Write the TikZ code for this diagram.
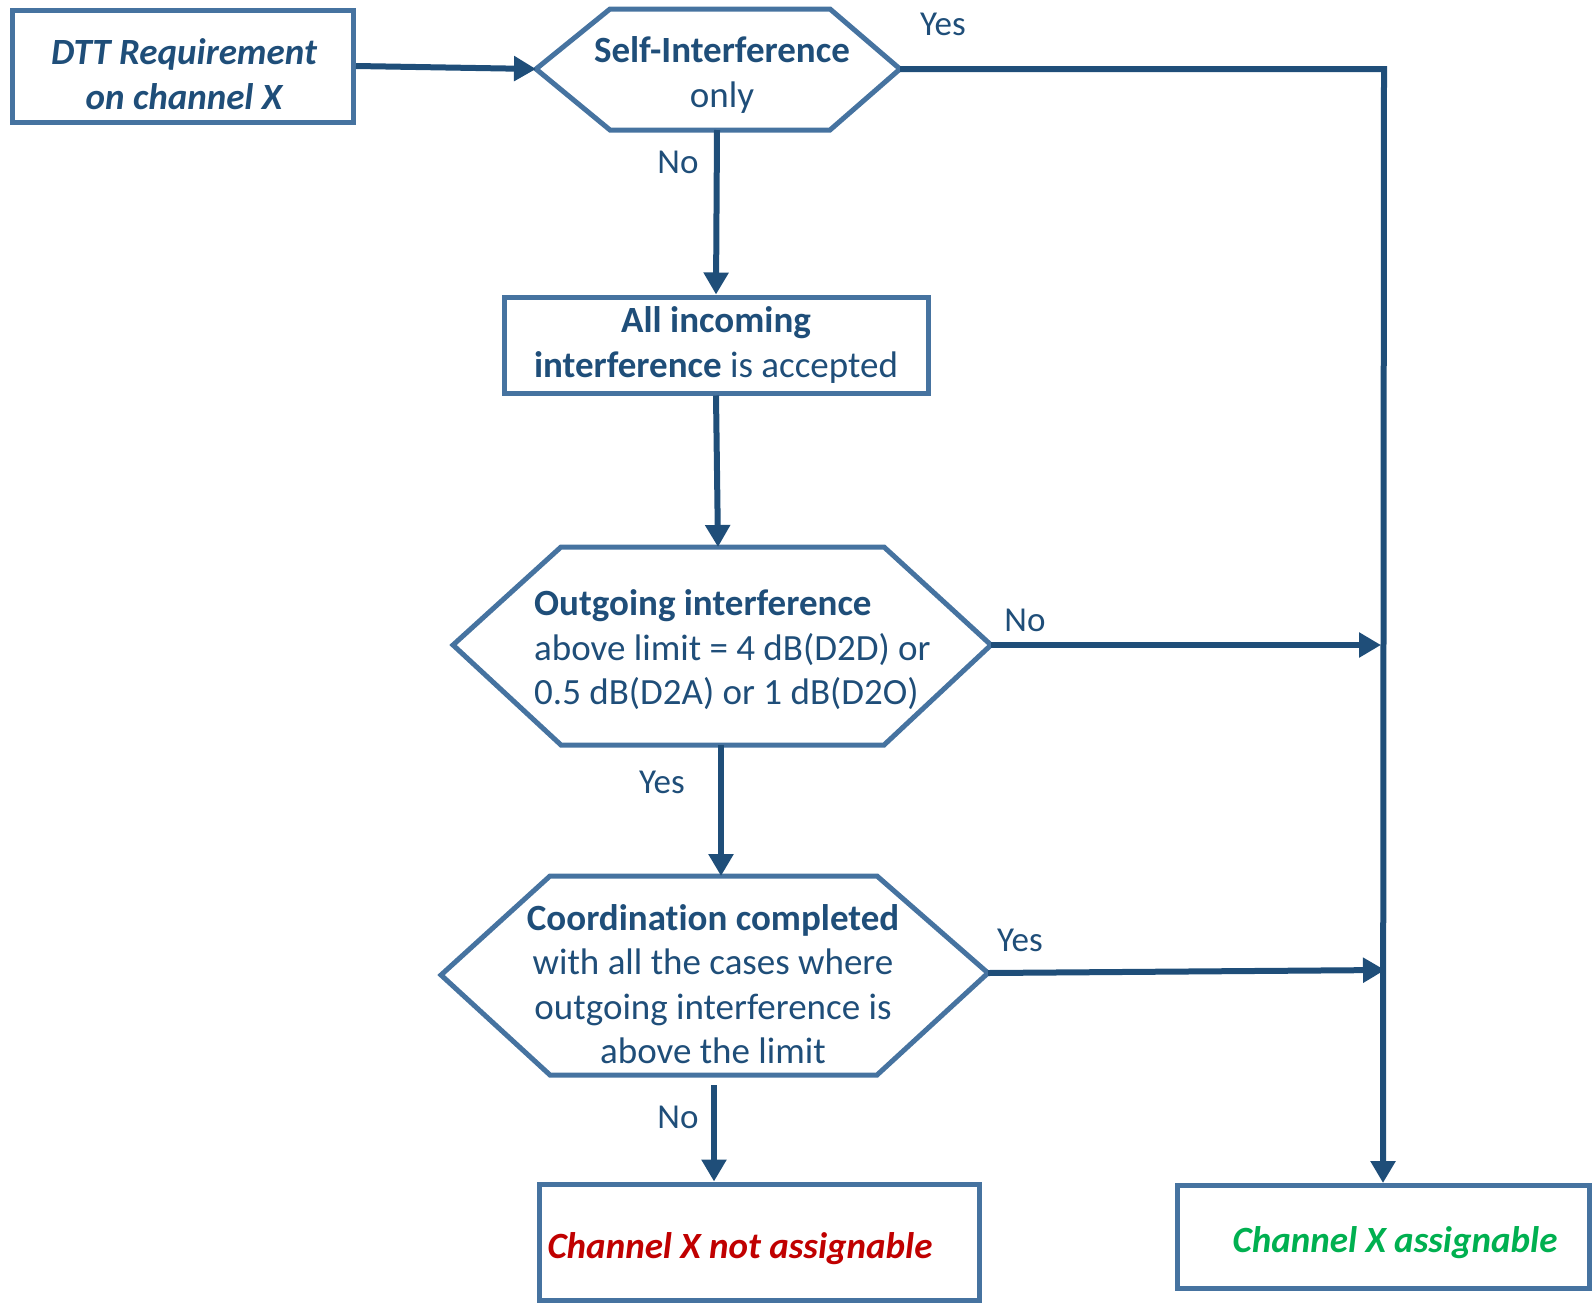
\documentclass[tikz,border=0pt]{standalone}
\usepackage{fontspec}
\setmainfont{Carlito}[Ligatures=NoCommon]
\usetikzlibrary{arrows.meta}
\definecolor{bord}{HTML}{4673A0}
\definecolor{navy}{HTML}{1F4E79}
\definecolor{redt}{HTML}{C00000}
\definecolor{greent}{HTML}{00B050}
\begin{document}
\begin{tikzpicture}[x=1pt,y=-1pt,
  shapeline/.style={draw=bord,line width=5pt,line join=miter},
  boxnode/.style={draw=bord,line width=5pt,inner sep=0pt,align=center,text=navy,font=\fontsize{37}{44.5}\selectfont},
  conn/.style={draw=navy,line width=6pt,-{Triangle[length=22pt,width=24pt]}},
  txt/.style={text=navy,font=\fontsize{37}{44.5}\selectfont,align=center,inner sep=0pt},
  lbl/.style={text=navy,font=\fontsize{35}{40}\selectfont,inner sep=0pt}]
\useasboundingbox (0,0) rectangle (1593,1302);

% boxes
\node[boxnode,minimum width=341pt,minimum height=112pt] (dtt) at (183,66) {};
\node[txt,font=\fontsize{37}{44.5}\selectfont\bfseries\itshape] (dttt) at (184,74)
  {DTT Requirement\\on channel X};
\node[boxnode,minimum width=424pt,minimum height=96pt] (acc) at (716,345)
  {\bfseries All incoming\\\textbf{interference} is accepted};
\node[boxnode,minimum width=440pt,minimum height=116pt] (nass) at (759.5,1242) {};
\node[boxnode,minimum width=412pt,minimum height=103pt] (ass) at (1383,1237) {};
\node[txt,text=redt,font=\fontsize{37}{44}\selectfont\bfseries\itshape] (nasst) at (740,1249) {Channel X not assignable};
\node[txt,text=greent,font=\fontsize{37}{44}\selectfont\bfseries\itshape] (asst) at (1395,1243) {Channel X assignable};

% hexagon 1
\coordinate (h1L) at (536,69);
\coordinate (h1R) at (900,69);
\coordinate (h1B) at (717,130);
\draw[shapeline] (h1L) -- (610,9) -- (830,9) -- (h1R) -- (830,130) -- (610,130) -- cycle;
\node[txt] (h1t) at (722,75) {\bfseries Self-Interference\\only};

% hexagon 3
\coordinate (h3L) at (453,645);
\coordinate (h3R) at (991,645);
\coordinate (h3T) at (718,547);
\coordinate (h3B) at (721,745);
\draw[shapeline] (h3L) -- (561,547) -- (884,547) -- (h3R) -- (884,745) -- (561,745) -- cycle;
\node[txt,align=left,anchor=west] (h3t) at (534,650)
  {\textbf{Outgoing interference}\\above limit = 4 dB(D2D) or\\0.5 dB(D2A) or 1 dB(D2O)};

% hexagon 4
\coordinate (h4L) at (441,975);
\coordinate (h4R) at (988,973);
\coordinate (h4T) at (721,876);
\coordinate (h4B) at (714,1085);
\draw[shapeline] (h4L) -- (550,876) -- (877,876) -- (h4R) -- (877,1075) -- (550,1075) -- cycle;
\node[txt] (h4t) at (713,984)
  {\textbf{Coordinat\kern0pt ion completed}\\with all the cases where\\outgoing interference is\\above the limit};

% junctions on right trunk
\coordinate (trunk) at (1384,69);
\coordinate (j1) at (1381,645);
\coordinate (j2) at (1385,970);

% connectors
\draw[conn] (dtt.east) -- (h1L);
\draw[conn] (h1R) -- (trunk) -- (ass.north);
\draw[conn] (h1B) -- (acc.north);
\draw[conn] (acc.south) -- (h3T);
\draw[conn] (h3R) -- (j1);
\draw[conn] (h3B) -- (h4T);
\draw[conn] (h4R) -- (j2);
\draw[conn] (h4B) -- (nass.north -| h4B);

% labels
\node[lbl] (l1) at (943,24) {Yes};
\node[lbl] (l2) at (678,162) {No};
\node[lbl] (l3) at (1025,620) {No};
\node[lbl] (l4) at (662,782) {Yes};
\node[lbl] (l5) at (1020,940) {Yes};
\node[lbl] (l6) at (678,1117) {No};
\end{tikzpicture}
\end{document}
